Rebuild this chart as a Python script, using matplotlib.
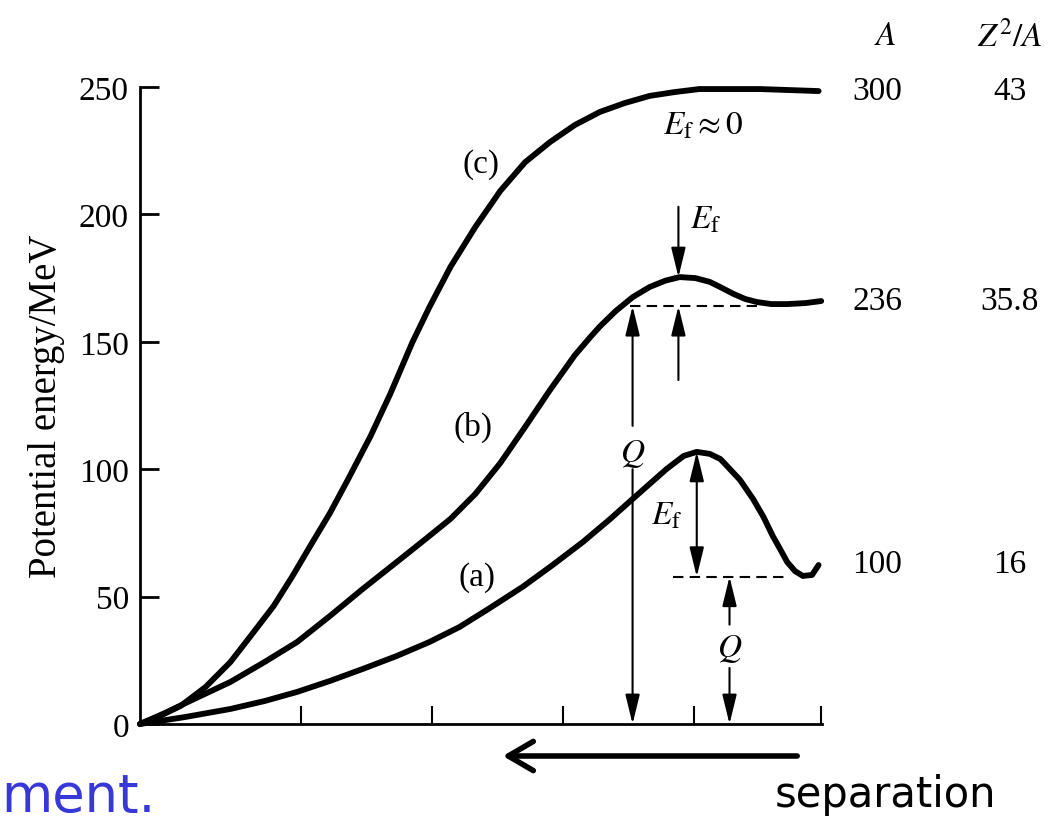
import matplotlib.pyplot as plt
from matplotlib.patches import FancyArrowPatch

plt.rcParams['font.family'] = 'Liberation Serif'
plt.rcParams['mathtext.fontset'] = 'stix'

# curves (separation in arbitrary units, energy in MeV)
c_x = [0, 0.15, 0.31, 0.5, 0.69, 0.85, 1.02, 1.16, 1.3, 1.45, 1.59, 1.76, 1.91, 2.08, 2.21, 2.37,
       2.56, 2.75, 2.94, 3.13, 3.32, 3.51, 3.7, 3.89, 4.08, 4.27, 4.73, 5.18]
c_y = [0, 3.1, 7.1, 14.5, 24.3, 34.9, 46.3, 57.7, 69.9, 82.8, 96.2, 113, 129.5, 149.9, 163.7, 179.4,
       195.1, 209.2, 220.5, 228.4, 235.1, 240.2, 243.7, 246.5, 248, 249.2, 249.2, 248.4]

b_x = [0, 0.19, 0.38, 0.69, 0.95, 1.2, 1.45, 1.7, 1.99, 2.18, 2.37, 2.56, 2.75, 2.94, 3.13, 3.32,
       3.44, 3.51, 3.63, 3.76, 3.89, 4.01, 4.12, 4.24, 4.35, 4.44, 4.53, 4.62, 4.71, 4.82, 4.94,
       5.08, 5.2]
b_y = [0, 4.3, 9.0, 16.5, 24.3, 32.2, 42.4, 53.0, 64.8, 72.6, 80.5, 90.3, 102.4, 116.6, 131.1,
       144.8, 152.0, 156.0, 162.0, 167.5, 171.5, 174.0, 175.4, 175.0, 173.5, 171.2, 168.8, 166.8,
       165.6, 164.8, 164.8, 165.2, 166.0]

a_x = [0, 0.34, 0.69, 0.95, 1.2, 1.45, 1.7, 1.96, 2.21, 2.44, 2.67, 2.92, 3.15, 3.38, 3.59, 3.76,
       3.89, 4.02, 4.15, 4.25, 4.35, 4.43, 4.48, 4.58, 4.68, 4.76, 4.83, 4.89, 4.94, 5.0, 5.06,
       5.13, 5.18]
a_y = [0, 2.7, 5.9, 9.0, 12.6, 16.9, 21.6, 26.7, 32.2, 38.1, 45.5, 53.8, 62.4, 71.4, 80.5, 88.3,
       94.2, 100.1, 105.2, 106.8, 106.0, 104.0, 101.3, 95.8, 88.3, 81.2, 73.8, 68.3, 63.6, 60.0,
       58.1, 58.5, 62.4]

# barrier tops and final levels
peak_b, level_b = 175.4, 164.0
peak_a, level_a = 106.8, 57.8
x_peak_b, x_peak_a = 4.11, 4.25

mass_A = ['300', '236', '100']
z2_over_A = ['43', '35.8', '16']
end_levels = [248.5, 166.0, 63.0]

yticks = [0, 50, 100, 150, 200, 250]
xticks = [1.23, 2.23, 3.23, 4.23, 5.2]

fig = plt.figure(figsize=(10.48, 8.29), dpi=100)
ax = fig.add_axes([140 / 1048, 1 - 725 / 829, 682 / 1048, 637 / 829])
ax.set_xlim(0, 5.206)
ax.set_ylim(0, 250)

for xs, ys in [(c_x, c_y), (b_x, b_y), (a_x, a_y)]:
    ax.plot(xs, ys, 'k-', lw=4.2, solid_joinstyle='round', solid_capstyle='round', clip_on=False)

ax.spines['top'].set_visible(False)
ax.spines['right'].set_visible(False)
ax.spines['left'].set_linewidth(2)
ax.spines['bottom'].set_linewidth(2)
ax.set_yticks(yticks)
ax.set_xticks(xticks)
ax.set_xticklabels([])
ax.tick_params(axis='y', direction='in', length=14, width=2, labelsize=24, pad=8)
ax.tick_params(axis='x', direction='in', length=13, width=1.5)
ax.set_ylabel('Potential energy/MeV', fontsize=28)
ax.yaxis.set_label_coords(-0.11, 0.5)

head = dict(color='k', lw=1.5, shrinkA=0, shrinkB=0, mutation_scale=20)


def arrow(x0, y0, x1, y1, style='-|>,head_length=0.9,head_width=0.22'):
    ax.annotate('', xy=(x1, y1), xytext=(x0, y0), arrowprops=dict(arrowstyle=style, **head),
                annotation_clip=False)


# (b): dashed level, Q and E_f arrows
ax.plot([3.74, 4.71], [level_b, level_b], 'k--', lw=1.5, dashes=(5, 3))
arrow(3.76, 117, 3.76, level_b)
arrow(3.76, 100, 3.76, 0)
ax.text(3.76, 106.5, '$Q$', fontsize=24, ha='center', va='center')
arrow(x_peak_b, 135, x_peak_b, level_b)
arrow(x_peak_b, 203, x_peak_b, peak_b)
ax.text(4.2, 198, r'$E_\mathrm{f}$', fontsize=24, ha='left', va='center')

# (a): dashed level, E_f and Q arrows
ax.plot([4.07, 4.94], [level_a, level_a], 'k--', lw=1.5, dashes=(5, 3))
arrow(x_peak_a, level_a, x_peak_a, peak_a, style='<|-|>,head_length=0.9,head_width=0.22')
ax.text(4.02, 82, r'$E_\mathrm{f}$', fontsize=24, ha='center', va='center')
arrow(4.5, 39, 4.5, level_a)
ax.text(4.5, 30, '$Q$', fontsize=24, ha='center', va='center')
arrow(4.5, 22, 4.5, 0)

ax.text(2.6, 220, '(c)', fontsize=24, ha='center', va='center')
ax.text(2.54, 117, '(b)', fontsize=24, ha='center', va='center')
ax.text(2.57, 58, '(a)', fontsize=24, ha='center', va='center')
ax.text(4.3, 235, r'$E_\mathrm{f} \approx 0$', fontsize=24, ha='center', va='center')

# table on the right
ax.text(5.69, 270, '$A$', fontsize=24, ha='center', va='center', clip_on=False)
ax.text(6.64, 270, '$Z^2/A$', fontsize=24, ha='center', va='center', clip_on=False)
for m, z, lev in zip(mass_A, z2_over_A, end_levels):
    ax.text(5.63, lev, m, fontsize=24, ha='center', va='center', clip_on=False)
    ax.text(6.64, lev, z, fontsize=24, ha='center', va='center', clip_on=False)

# slide overlay below the figure
fig.patches.append(FancyArrowPatch(
    (800 / 1048, 1 - 757 / 829), (500 / 1048, 1 - 757 / 829), transform=fig.transFigure,
    arrowstyle='->,head_length=0.6,head_width=0.35', mutation_scale=30, lw=4, color='k'))
fig.text(885 / 1048, 1 - 795 / 829, 'separation', fontsize=30, family='DejaVu Sans',
         ha='center', va='center')
fig.text(0.001, 1 - 798 / 829, 'ment.', fontsize=38, family='DejaVu Sans', color='#3838d8',
         ha='left', va='center')

fig.savefig('out.png', dpi=100)
